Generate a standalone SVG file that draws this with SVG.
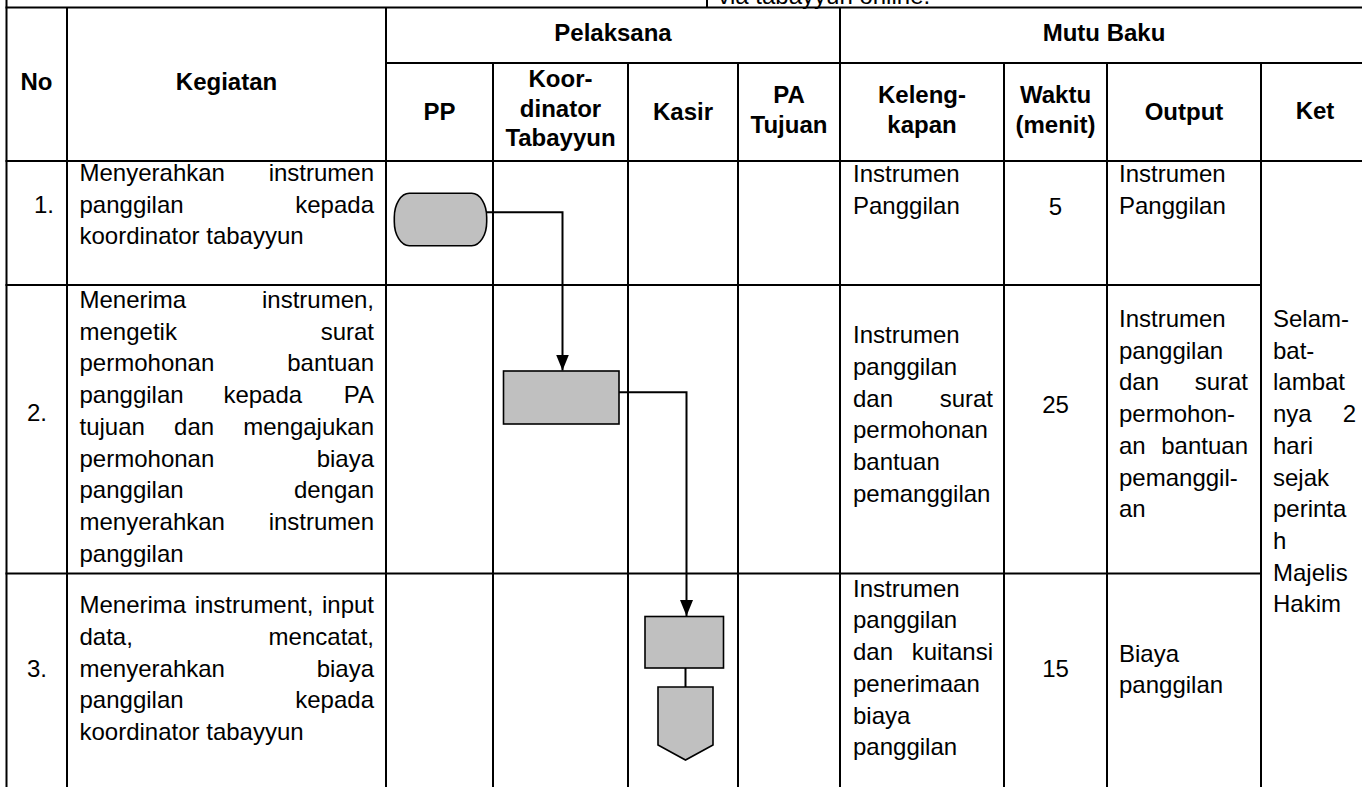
<svg xmlns="http://www.w3.org/2000/svg" width="1362" height="787" viewBox="0 0 1362 787">
<style>
text{font-family:"Liberation Sans",Arial,sans-serif;font-size:24px;fill:#000}
.h{font-weight:bold;text-anchor:middle}
.m{text-anchor:middle}
.e{text-anchor:end}
.grid line{stroke:#000;stroke-width:2}
.shape{fill:#c0c0c0;stroke:#000;stroke-width:1.6}
.conn{fill:none;stroke:#000;stroke-width:2}
</style>
<defs>
<marker id="arrow" markerUnits="userSpaceOnUse" markerWidth="16" markerHeight="13" viewBox="0 0 16 13" refX="16" refY="6.5" orient="auto">
<path d="M0,0 L16,6.5 L0,13 z" fill="#000"/>
</marker>
</defs>
<rect width="1362" height="787" fill="#fff"/>

<g id="table-grid" class="grid">
<line x1="5.5" y1="7.5" x2="1362" y2="7.5"/>
<line x1="386" y1="63" x2="1362" y2="63"/>
<line x1="5.5" y1="161" x2="1362" y2="161"/>
<line x1="5.5" y1="285" x2="1261" y2="285"/>
<line x1="5.5" y1="573.5" x2="1261" y2="573.5"/>
<line x1="6.5" y1="0" x2="6.5" y2="787"/>
<line x1="707" y1="0" x2="707" y2="7.5"/>
<line x1="67" y1="7.5" x2="67" y2="787"/>
<line x1="386" y1="7.5" x2="386" y2="787"/>
<line x1="840" y1="7.5" x2="840" y2="787"/>
<line x1="493" y1="63" x2="493" y2="787"/>
<line x1="628" y1="63" x2="628" y2="787"/>
<line x1="738" y1="63" x2="738" y2="787"/>
<line x1="1004" y1="63" x2="1004" y2="787"/>
<line x1="1107" y1="63" x2="1107" y2="787"/>
<line x1="1261" y1="63" x2="1261" y2="787"/>
</g>

<g id="top-text">
<text x="718" y="3.5">via tabayyun online.</text>
</g>

<g id="header">
<text class="h" x="36.5" y="90">No</text>
<text class="h" x="226.5" y="90">Kegiatan</text>
<text class="h" x="613" y="41">Pelaksana</text>
<text class="h" x="1104" y="41">Mutu Baku</text>
<text class="h" x="439.5" y="120">PP</text>
<text class="h" x="560.5" y="87">Koor-</text>
<text class="h" x="560.5" y="116.7">dinator</text>
<text class="h" x="560.5" y="146.4">Tabayyun</text>
<text class="h" x="683" y="120">Kasir</text>
<text class="h" x="789" y="103.3">PA</text>
<text class="h" x="789" y="133">Tujuan</text>
<text class="h" x="922" y="103.3">Keleng-</text>
<text class="h" x="922" y="133">kapan</text>
<text class="h" x="1055.5" y="103.3">Waktu</text>
<text class="h" x="1055.5" y="133">(menit)</text>
<text class="h" x="1184" y="120">Output</text>
<text class="h" x="1315" y="119">Ket</text>
</g>

<g id="row-1">
<text x="34" y="212.7">1.</text>
<text x="79.5" y="181">Menyerahkan</text><text class="e" x="374" y="181">instrumen</text>
<text x="79.5" y="212.7">panggilan</text><text class="e" x="374" y="212.7">kepada</text>
<text x="79.5" y="244.4">koordinator tabayyun</text>
<text x="853" y="182">Instrumen</text>
<text x="853" y="213.7">Panggilan</text>
<text class="m" x="1055.5" y="215">5</text>
<text x="1119" y="182">Instrumen</text>
<text x="1119" y="213.7">Panggilan</text>
</g>

<g id="row-2">
<text class="m" x="37" y="421">2.</text>
<text x="79.5" y="308">Menerima</text><text class="e" x="374" y="308">instrumen,</text>
<text x="79.5" y="339.7">mengetik</text><text class="e" x="374" y="339.7">surat</text>
<text x="79.5" y="371.4">permohonan</text><text class="e" x="374" y="371.4">bantuan</text>
<text x="79.5" y="403.1">panggilan</text><text x="223.4" y="403.1">kepada</text><text class="e" x="374" y="403.1">PA</text>
<text x="79.5" y="434.8">tujuan</text><text x="174.1" y="434.8">dan</text><text class="e" x="374" y="434.8">mengajukan</text>
<text x="79.5" y="466.5">permohonan</text><text class="e" x="374" y="466.5">biaya</text>
<text x="79.5" y="498.2">panggilan</text><text class="e" x="374" y="498.2">dengan</text>
<text x="79.5" y="529.9">menyerahkan</text><text class="e" x="374" y="529.9">instrumen</text>
<text x="79.5" y="561.6">panggilan</text>
<text x="853" y="343.3">Instrumen</text>
<text x="853" y="375">panggilan</text>
<text x="853" y="406.7">dan</text><text class="e" x="993" y="406.7">surat</text>
<text x="853" y="438.4">permohonan</text>
<text x="853" y="470">bantuan</text>
<text x="853" y="501.7">pemanggilan</text>
<text class="m" x="1055.5" y="413">25</text>
<text x="1119" y="327">Instrumen</text>
<text x="1119" y="358.7">panggilan</text>
<text x="1119" y="390.4">dan</text><text class="e" x="1248" y="390.4">surat</text>
<text x="1119" y="422.1">permohon-</text>
<text x="1119" y="453.8">an</text><text class="e" x="1248" y="453.8">bantuan</text>
<text x="1119" y="485.5">pemanggil-</text>
<text x="1119" y="517.2">an</text>
</g>

<g id="row-3">
<text class="m" x="37" y="676.7">3.</text>
<text x="79.5" y="613.3">Menerima</text><text x="194.7" y="613.3">instrument,</text><text class="e" x="374" y="613.3">input</text>
<text x="79.5" y="645">data,</text><text class="e" x="374" y="645">mencatat,</text>
<text x="79.5" y="676.7">menyerahkan</text><text class="e" x="374" y="676.7">biaya</text>
<text x="79.5" y="708.4">panggilan</text><text class="e" x="374" y="708.4">kepada</text>
<text x="79.5" y="740.1">koordinator tabayyun</text>
<text x="853" y="596.7">Instrumen</text>
<text x="853" y="628.4">panggilan</text>
<text x="853" y="660.1">dan</text><text class="e" x="993" y="660.1">kuitansi</text>
<text x="853" y="691.8">penerimaan</text>
<text x="853" y="723.5">biaya</text>
<text x="853" y="755.2">panggilan</text>
<text class="m" x="1055.5" y="676.7">15</text>
<text x="1119" y="661.7">Biaya</text>
<text x="1119" y="693.4">panggilan</text>
</g>

<g id="ket">
<text x="1273" y="327">Selam-</text>
<text x="1273" y="358.7">bat-</text>
<text x="1273" y="390.4">lambat</text>
<text x="1273" y="422.1">nya</text><text class="e" x="1356" y="422.1">2</text>
<text x="1273" y="453.8">hari</text>
<text x="1273" y="485.5">sejak</text>
<text x="1273" y="517.2">perinta</text>
<text x="1273" y="548.9">h</text>
<text x="1273" y="580.6">Majelis</text>
<text x="1273" y="612.3">Hakim</text>
</g>

<g id="connectors">
<path class="conn" d="M486.7,212.3 H562.5 V370.5" marker-end="url(#arrow)"/>
<path class="conn" d="M619,392.3 H686.5 V616" marker-end="url(#arrow)"/>
<path class="conn" d="M685.5,668 V687"/>
</g>

<g id="node-start">
<rect class="shape" x="394.3" y="193.3" width="92.4" height="52.4" rx="15" ry="24"/>
</g>
<g id="node-koordinator">
<rect class="shape" x="503.5" y="371" width="115.5" height="53"/>
</g>
<g id="node-kasir">
<rect class="shape" x="645" y="616.5" width="78.5" height="51.5"/>
</g>
<g id="node-offpage">
<path class="shape" d="M658,687 H713 V745 L685.5,760 L658,745 Z"/>
</g>
</svg>
